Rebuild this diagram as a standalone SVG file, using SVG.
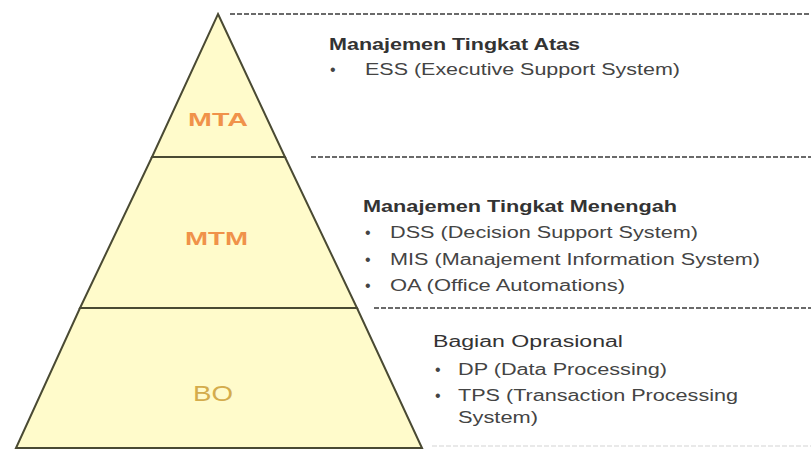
<svg xmlns="http://www.w3.org/2000/svg" width="811" height="450" viewBox="0 0 811 450">
<style>
.tier{fill:#FFFBCB;stroke:#4A4A33;stroke-width:2;stroke-linejoin:miter}
.dash{stroke:#3a3a3a;stroke-width:1.5;stroke-dasharray:5 2;fill:none}
.lbl{font-family:"Liberation Sans",Arial,sans-serif;font-size:19px;font-weight:bold;text-anchor:start}
.h{font-family:"Liberation Sans",Arial,sans-serif;font-size:16px;font-weight:bold;fill:#333}
.t{font-family:"Liberation Sans",Arial,sans-serif;font-size:16px;fill:#444}
</style>
<rect width="811" height="450" fill="#fff"/>
<g id="connectors">
<line class="dash" x1="230" y1="14" x2="811" y2="14"/>
<line class="dash" x1="311" y1="157" x2="811" y2="157"/>
<line class="dash" x1="374" y1="308" x2="811" y2="308"/>
<line x1="432" y1="446" x2="811" y2="446" stroke="#e2e2e2" stroke-width="1.5" stroke-dasharray="5 2"/>
</g>
<g id="MTA">
<polygon class="tier" points="218,14 285,157 152,157"/>
<text class="lbl" x="188" y="126" fill="#F0924A" textLength="60" lengthAdjust="spacingAndGlyphs">MTA</text>
</g>
<g id="MTM">
<polygon class="tier" points="152,157 285,157 357,308 80,308"/>
<text class="lbl" x="185" y="245" fill="#F0924A" textLength="63" lengthAdjust="spacingAndGlyphs">MTM</text>
</g>
<g id="BO">
<polygon class="tier" points="80,308 357,308 422,448 16,448"/>
<text class="lbl" x="193" y="401" fill="#D4AC4C" style="font-weight:normal;font-size:22px" textLength="40" lengthAdjust="spacingAndGlyphs">BO</text>
</g>
<g id="text-top">
<text class="h" x="329" y="50" textLength="251" lengthAdjust="spacingAndGlyphs">Manajemen Tingkat Atas</text>
<text class="t" x="330" y="75">•</text>
<text class="t" x="365" y="75" textLength="315" lengthAdjust="spacingAndGlyphs">ESS (Executive Support System)</text>
</g>
<g id="text-mid">
<text class="h" x="363" y="212" textLength="314" lengthAdjust="spacingAndGlyphs">Manajemen Tingkat Menengah</text>
<text class="t" x="365" y="238">•</text>
<text class="t" x="390" y="238" textLength="308" lengthAdjust="spacingAndGlyphs">DSS (Decision Support System)</text>
<text class="t" x="365" y="265">•</text>
<text class="t" x="390" y="265" textLength="370" lengthAdjust="spacingAndGlyphs">MIS (Manajement Information System)</text>
<text class="t" x="365" y="291">•</text>
<text class="t" x="390" y="291" textLength="235" lengthAdjust="spacingAndGlyphs">OA (Office Automations)</text>
</g>
<g id="text-bot">
<text class="t" x="433" y="347" style="fill:#333" textLength="190" lengthAdjust="spacingAndGlyphs">Bagian Oprasional</text>
<text class="t" x="435" y="375">•</text>
<text class="t" x="458" y="375" textLength="209" lengthAdjust="spacingAndGlyphs">DP (Data Processing)</text>
<text class="t" x="435" y="401">•</text>
<text class="t" x="458" y="401" textLength="280" lengthAdjust="spacingAndGlyphs">TPS (Transaction Processing</text>
<text class="t" x="458" y="423" textLength="80" lengthAdjust="spacingAndGlyphs">System)</text>
</g>
</svg>
